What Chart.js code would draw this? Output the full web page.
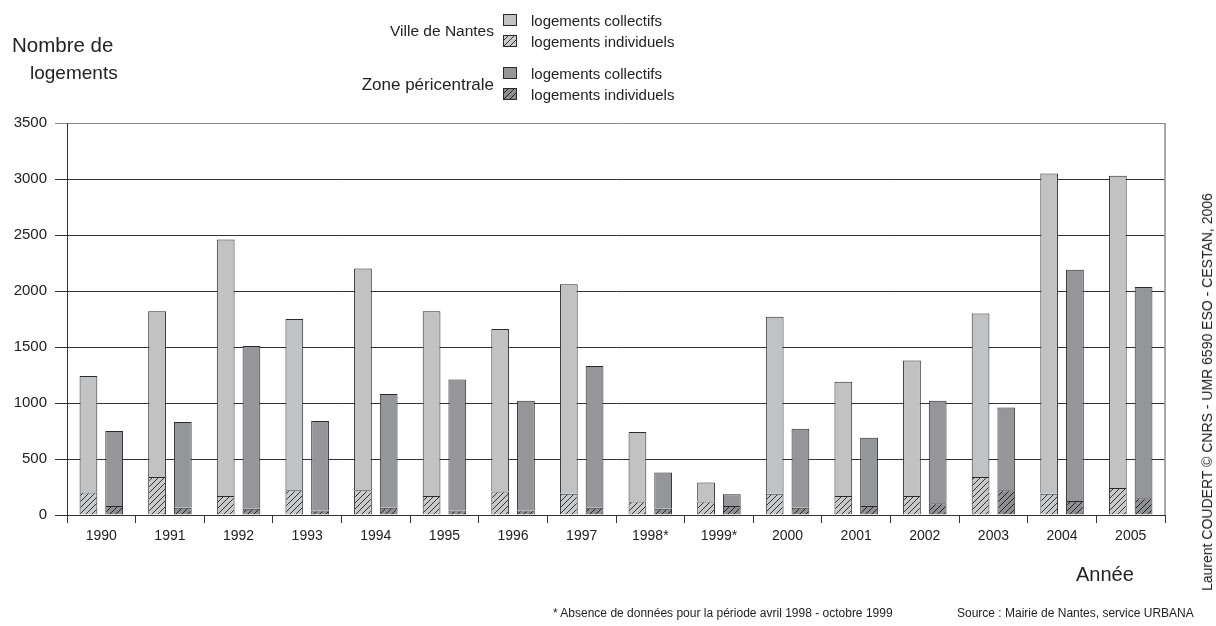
<!DOCTYPE html>
<html>
<head>
<meta charset="utf-8">
<script src="https://cdn.jsdelivr.net/npm/chart.js@4.4.1/dist/chart.umd.min.js"></script>
<style>
  html,body{margin:0;padding:0;background:#fff;}
  #wrap{position:relative;width:1216px;height:626px;overflow:hidden;font-family:"Liberation Sans",Arial,sans-serif;color:#222;font-weight:normal;}
  #c{position:absolute;left:0;top:0;}
  .t{position:absolute;white-space:nowrap;line-height:1;transform:translateY(-50%);font-weight:normal;}
  .r{transform:translate(-100%,-50%);}
  .sw{position:absolute;}
</style>
</head>
<body>
<div id="wrap">
  <canvas id="c" width="1216" height="626"></canvas>
  <div class="t" style="left:12px;top:45px;font-size:20.5px;">Nombre de</div>
  <div class="t" style="left:30px;top:72px;font-size:19px;">logements</div>
  <div id="legend"></div>
  <div class="t" style="left:1076px;top:574px;font-size:20px;">Année</div>
  <div class="t" style="left:553px;top:613px;font-size:12px;">* Absence de données pour la période avril 1998 - octobre 1999</div>
  <div class="t" style="left:957px;top:613px;font-size:12px;">Source : Mairie de Nantes, service URBANA</div>
  <div style="position:absolute;left:1207px;top:392px;transform:translate(-50%,-50%) rotate(-90deg);white-space:nowrap;font-size:14px;line-height:1;font-weight:normal;">Laurent COUDERT © CNRS - UMR 6590 ESO - CESTAN, 2006</div>
</div>
<script>
// ---- data ----
const years = ['1990','1991','1992','1993','1994','1995','1996','1997','1998*','1999*','2000','2001','2002','2003','2004','2005'];
const nantesIndividuels = [200,340,170,220,220,170,210,190,120,120,190,170,170,340,190,240];
const nantesCollectifs  = [1040,1480,2290,1530,1980,1650,1450,1870,620,170,1580,1020,1210,1460,2860,2790];
const zoneIndividuels   = [80,65,55,40,65,40,40,65,55,80,65,80,105,220,125,150];
const zoneCollectifs    = [670,765,1455,800,1015,1170,980,1265,325,105,705,610,915,740,2065,1885];
const groupLabels = ['Ville de Nantes','Zone péricentrale'];
const seriesLabels = ['logements collectifs','logements individuels'];
const yMin = 0, yMax = 3500, yStep = 500;

// ---- styles ----
const C_N = '#c1c2c4', C_Z = '#95969a', C_EDGE = '#2a2a2a';
function hatch(bg, line){
  const cv = document.createElement('canvas'); cv.width = 6; cv.height = 6;
  const x = cv.getContext('2d');
  x.fillStyle = bg; x.fillRect(0,0,6,6);
  x.strokeStyle = line; x.lineWidth = 1;
  x.beginPath();
  x.moveTo(0,6); x.lineTo(6,0);
  x.moveTo(-1,1); x.lineTo(1,-1);
  x.moveTo(5,7); x.lineTo(7,5);
  x.stroke();
  return x.createPattern(cv,'repeat');
}
const H_N = hatch('#c8c9cb','#333');
const H_Z = hatch('#8e8f92','#222');

const datasets = [
  {label: groupLabels[0]+' - '+seriesLabels[1], data: nantesIndividuels, stack:'n', backgroundColor:H_N},
  {label: groupLabels[0]+' - '+seriesLabels[0], data: nantesCollectifs,  stack:'n', backgroundColor:C_N},
  {label: groupLabels[1]+' - '+seriesLabels[1], data: zoneIndividuels,   stack:'z', backgroundColor:H_Z},
  {label: groupLabels[1]+' - '+seriesLabels[0], data: zoneCollectifs,    stack:'z', backgroundColor:C_Z}
].map(d => Object.assign(d, {borderColor:C_EDGE, borderWidth:1, categoryPercentage:0.75, barPercentage:0.69}));

const rightBorder = {
  id:'rightBorder',
  afterDatasetsDraw(chart){
    const {ctx, chartArea:a} = chart;
    ctx.save(); ctx.strokeStyle = '#8a8a8a'; ctx.lineWidth = 1.5;
    ctx.beginPath(); ctx.moveTo(a.right, a.top); ctx.lineTo(a.right, a.bottom); ctx.stroke();
    ctx.restore();
  }
};

new Chart(document.getElementById('c'), {
  type:'bar',
  data:{labels: years, datasets},
  plugins:[rightBorder],
  options:{
    responsive:false, animation:false, devicePixelRatio:1,
    layout:{padding:{left:0, top:123, right:51, bottom:0}},
    plugins:{legend:{display:false}, tooltip:{enabled:false}},
    scales:{
      x:{
        stacked:true,
        grid:{display:true, drawOnChartArea:false, drawTicks:true, tickLength:8, color:'#333', offset:true},
        border:{display:true, color:'#333'},
        ticks:{color:'#222', font:{family:'Liberation Sans', size:14}, padding:5, maxRotation:0, autoSkip:false},
        afterFit(s){ s.height = 111; }
      },
      y:{
        stacked:true, min:yMin, max:yMax,
        ticks:{stepSize:yStep, color:'#222', font:{family:'Liberation Sans', size:15}, padding:8, callback: v => String(v)},
        grid:{color: c => (c.tick && c.tick.value === yMax) ? '#8a8a8a' : '#333', tickLength:12, drawTicks:true, lineWidth:1},
        border:{display:true, color:'#333'},
        afterFit(s){ s.width = 67; }
      }
    }
  }
});

// ---- HTML legend ----
(function(){
  const L = document.getElementById('legend');
  const groups = [
    {label:groupLabels[0], size:15.5, cy:31, rows:[{y:20, fill:C_N}, {y:41, fill:H_N}]},
    {label:groupLabels[1], size:17, cy:84, rows:[{y:73, fill:C_Z}, {y:94, fill:H_Z}]}
  ];
  groups.forEach(g=>{
    const t = document.createElement('div');
    t.className = 't r'; t.style.left = '494px'; t.style.top = g.cy+'px'; t.style.fontSize = g.size+'px';
    t.textContent = g.label; L.appendChild(t);
    g.rows.forEach((r,i)=>{
      const cv = document.createElement('canvas'); cv.width = 14; cv.height = 12; cv.className='sw';
      cv.style.left = '503px'; cv.style.top = (r.y-6)+'px';
      const x = cv.getContext('2d'); x.fillStyle = r.fill; x.fillRect(0,0,14,12);
      x.strokeStyle = C_EDGE; x.lineWidth = 1; x.strokeRect(0.5,0.5,13,11);
      L.appendChild(cv);
      const s = document.createElement('div');
      s.className = 't'; s.style.left = '531px'; s.style.top = r.y+'px'; s.style.fontSize = '15px';
      s.textContent = seriesLabels[i]; L.appendChild(s);
    });
  });
})();
</script>
</body>
</html>
